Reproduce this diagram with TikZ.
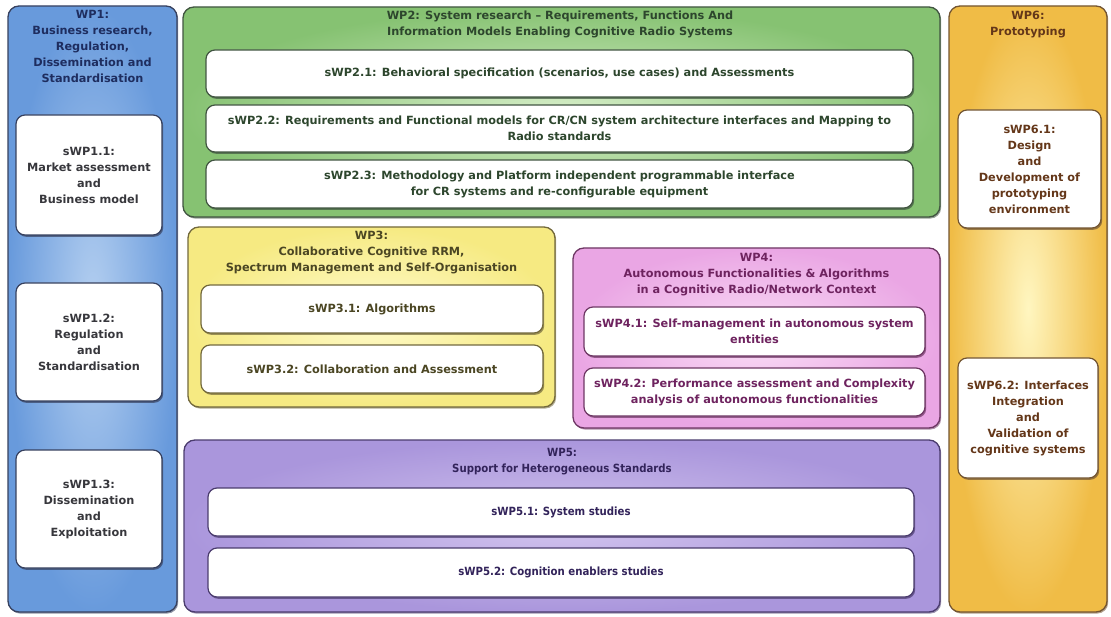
\documentclass[tikz,border=0pt]{standalone}
\usepackage{fontspec}
\setmainfont{DejaVu Sans}
\newfontfamily\narrowfont{DejaVu Sans Condensed}
\usetikzlibrary{shadows}

% group palettes: edge, centre, outline, text
\definecolor{bEdge}{RGB}{104,154,220}\definecolor{bMid}{RGB}{180,207,240}\definecolor{bLine}{RGB}{55,65,95}\definecolor{bText}{RGB}{30,45,95}
\definecolor{gEdge}{RGB}{134,194,114}\definecolor{gMid}{RGB}{214,238,200}\definecolor{gLine}{RGB}{65,85,65}\definecolor{gText}{RGB}{45,70,45}
\definecolor{yEdge}{RGB}{246,234,130}\definecolor{yMid}{RGB}{255,251,205}\definecolor{yLine}{RGB}{115,105,60}\definecolor{yText}{RGB}{75,70,35}
\definecolor{pEdge}{RGB}{234,166,228}\definecolor{pMid}{RGB}{250,222,246}\definecolor{pLine}{RGB}{110,55,100}\definecolor{pText}{RGB}{110,35,95}
\definecolor{vEdge}{RGB}{170,150,220}\definecolor{vMid}{RGB}{210,196,238}\definecolor{vLine}{RGB}{75,60,110}\definecolor{vText}{RGB}{50,35,90}
\definecolor{oEdge}{RGB}{240,188,70}\definecolor{oMid}{RGB}{255,246,192}\definecolor{oLine}{RGB}{115,85,50}\definecolor{oText}{RGB}{100,55,25}
\definecolor{subText}{RGB}{55,55,60}

\tikzset{
  grpbox/.style n args={3}{draw=#3, line width=1.3pt, rounded corners=11pt,
    inner color=#2, outer color=#1,
    drop shadow={shadow xshift=1.2pt, shadow yshift=-1.6pt, opacity=0.55, fill=#3}},
  subbox/.style={draw=#1, line width=1.2pt, rounded corners=9pt, fill=white,
    text=subText, align=center, inner sep=0pt,
    drop shadow={shadow xshift=1.2pt, shadow yshift=-1.8pt, opacity=0.7, fill=#1},
    font=\fontsize{11.3}{16}\selectfont\bfseries},
  ttl/.style={text=#1, align=center, inner sep=0pt, anchor=north,
    font=\fontsize{11.3}{16}\selectfont\bfseries},
  narrowtxt/.style={font=\fontsize{11.3}{16}\narrowfont\bfseries},
}

\begin{document}
\begin{tikzpicture}[x=1pt, y=-1pt]
\useasboundingbox (0,0) rectangle (1111,617);
\fill[white] (0,0) rectangle (1111,617);

% WP1 column
\node[grpbox={bEdge}{bMid}{bLine}, minimum width=169pt, minimum height=606pt] (wp1) at (92.5,309) {};
\node[ttl=bText] (wp1t) at (92.5,10) {WP1:\\Business research,\\Regulation,\\Dissemination and\\Standardisation};
\node[subbox=bLine, minimum width=146pt, minimum height=120pt] (s11) at (89,175) {sWP1.1:\\Market assessment\\and\\Business model};
\node[subbox=bLine, minimum width=146pt, minimum height=118pt] (s12) at (89,342) {sWP1.2:\\Regulation\\and\\Standardisation};
\node[subbox=bLine, minimum width=146pt, minimum height=118pt] (s13) at (89,509) {sWP1.3:\\Dissemination\\and\\Exploitation};

% WP2 block
\node[grpbox={gEdge}{gMid}{gLine}, minimum width=757pt, minimum height=210pt] (wp2) at (561.5,112) {};
\node[ttl=gText] (wp2t) at (560,11) {WP2: System research -- Requirements, Functions And\\Information Models Enabling Cognitive Radio Systems};
\node[subbox=gLine, text=gText, minimum width=707pt, minimum height=47pt] (s21) at (559.5,73.5) {sWP2.1: Behavioral specification (scenarios, use cases) and Assessments};
\node[subbox=gLine, text=gText, minimum width=707pt, minimum height=47pt] (s22) at (559.5,128.5) {sWP2.2: Requirements and Functional models for CR/CN system architecture interfaces and Mapping to\\Radio standards};
\node[subbox=gLine, text=gText, minimum width=707pt, minimum height=48pt] (s23) at (559.5,184) {sWP2.3: Methodology and Platform independent programmable interface\\for CR systems and re-configurable equipment};

% WP3 block
\node[grpbox={yEdge}{yMid}{yLine}, minimum width=367pt, minimum height=180pt] (wp3) at (371.5,317) {};
\node[ttl=yText] (wp3t) at (371.5,231) {WP3:\\Collaborative Cognitive RRM,\\Spectrum Management and Self-Organisation};
\node[subbox=yLine, text=yText, minimum width=342pt, minimum height=48pt] (s31) at (372,309) {sWP3.1: Algorithms};
\node[subbox=yLine, text=yText, minimum width=342pt, minimum height=48pt] (s32) at (372,369) {sWP3.2: Collaboration and Assessment};

% WP4 block
\node[grpbox={pEdge}{pMid}{pLine}, minimum width=367pt, minimum height=180pt] (wp4) at (756.5,338) {};
\node[ttl=pText] (wp4t) at (756.5,253) {WP4:\\Autonomous Functionalities \& Algorithms\\in a Cognitive Radio/Network Context};
\node[subbox=pLine, text=pText, minimum width=341pt, minimum height=49pt] (s41) at (754.5,331.5) {sWP4.1: Self-management in autonomous system\\entities};
\node[subbox=pLine, text=pText, minimum width=341pt, minimum height=48pt] (s42) at (754.5,392) {sWP4.2: Performance assessment and Complexity\\analysis of autonomous functionalities};

% WP5 block
\node[grpbox={vEdge}{vMid}{vLine}, minimum width=756pt, minimum height=172pt] (wp5) at (562,526) {};
\node[ttl=vText, narrowtxt] (wp5t) at (562,448) {WP5:\\Support for Heterogeneous Standards};
\node[subbox=vLine, text=vText, narrowtxt, minimum width=706pt, minimum height=48pt] (s51) at (561,512) {sWP5.1: System studies};
\node[subbox=vLine, text=vText, narrowtxt, minimum width=706pt, minimum height=49pt] (s52) at (561,572.5) {sWP5.2: Cognition enablers studies};

% WP6 column
\node[grpbox={oEdge}{oMid}{oLine}, minimum width=158pt, minimum height=606pt] (wp6) at (1028,309) {};
\node[ttl=oText] (wp6t) at (1028,11) {WP6:\\Prototyping};
\node[subbox=oLine, text=oText, minimum width=143pt, minimum height=118pt] (s61) at (1029.5,169) {sWP6.1:\\Design\\and\\Development of\\prototyping\\environment};
\node[subbox=oLine, text=oText, minimum width=140pt, minimum height=120pt] (s62) at (1028,418) {sWP6.2: Interfaces\\Integration\\and\\Validation of\\cognitive systems};
\end{tikzpicture}
\end{document}
